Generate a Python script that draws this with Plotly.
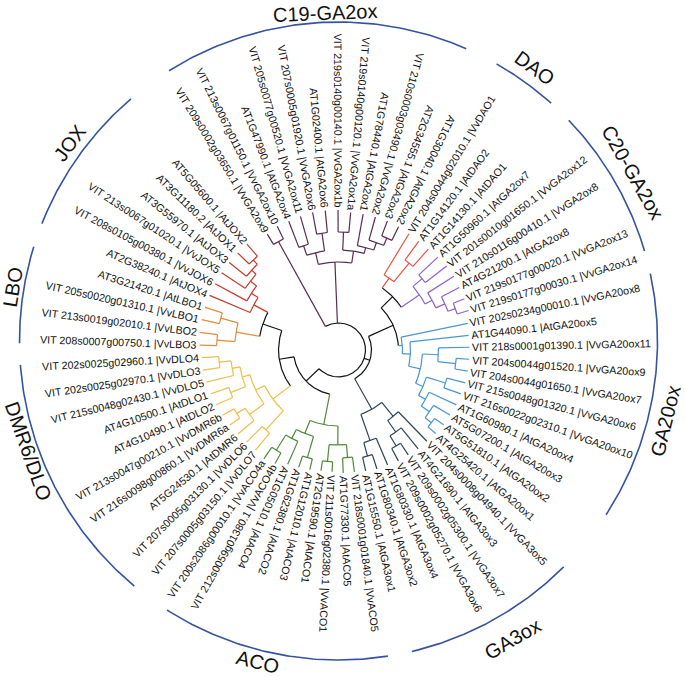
import math
import plotly.graph_objects as go

W, H = 685, 677

# ---------------- data ----------------
LEAF_LABELS = [
    "VIT 209s0002g03650.1 |VvGA2ox9", "VIT 213s0067g01150.1 |VvGA2ox10", "AT1G47990.1 |AtGA2ox4",
    "VIT 205s0077g00520.1 |VvGA2ox11", "VIT 207s0005g01920.1 |VvGA2ox6", "AT1G02400.1 |AtGA2ox6",
    "VIT 219s0140g00140.1 |VvGA2ox1b", "VIT 219s0140g00120.1 |VvGA2ox1a", "AT1G78440.1 |AtGA2ox1",
    "VIT 210s0003g03490.1 |VvGA2ox2", "AT2G34555.1 |AtGA2ox3", "AT1G30040.1 |AtGA2ox2",
    "VIT 204s0044g02010.1 |VvDAO1", "AT1G14120.1 |AtDAO2", "AT1G14130.1 |AtDAO1",
    "AT1G50960.1 |AtGA2ox7", "VIT 201s0010g01650.1 |VvGA2ox12", "VIT 210s0116g00410.1 |VvGA2ox8",
    "AT4G21200.1 |AtGA2ox8", "VIT 219s0177g00020.1 |VvGA2ox13", "VIT 219s0177g00030.1 |VvGA2ox14",
    "VIT 202s0234g00010.1 |VvGA20ox8", "AT1G44090.1 |AtGA20ox5", "VIT 218s0001g01390.1 |VvGA20ox11",
    "VIT 204s0044g01520.1 |VvGA20ox9", "VIT 204s0044g01650.1 |VvGA20ox7", "VIT 215s0048g01320.1 |VvGA20ox6",
    "VIT 216s0022g02310.1 |VvGA20ox10", "AT1G60980.1 |AtGA20ox4", "AT5G07200.1 |AtGA20ox3",
    "AT5G51810.1 |AtGA20ox2", "AT4G25420.1 |AtGA20ox1",
    "VIT 204s0008g04940.1 |VvGA3ox5", "AT4G21690.1 |AtGA3ox3", "VIT 209s0002g05300.1 |VvGA3ox7",
    "VIT 209s0002g05270.1 |VvGA3ox6", "AT1G80330.1 |AtGA3ox4", "AT1G80340.1 |AtGA3ox2", "AT1G15550.1 |AtGA3ox1",
    "VIT 218s0001g01840.1 |VvACO5", "AT1G77330.1 |AtACO5", "VIT 211s0016g02380.1 |VvACO1",
    "AT2G19590.1 |AtACO1", "AT1G12010.1 |AtACO3", "AT1G62380.1 |AtACO2", "AT1G05010.1 |AtACO4",
    "VIT 212s0059g01380.1 |VvACO4b", "VIT 200s2086g00010.1 |VvACO4a",
    "VIT 207s0005g03150.1 |VvDLO7", "VIT 207s0005g03130.1 |VvDLO6", "AT5G24530.1 |AtDMR6",
    "VIT 216s0098g00860.1 |VvDMR6a", "VIT 213s0047g00210.1 |VvDMR6b", "AT4G10490.1 |AtDLO2",
    "AT4G10500.1 |AtDLO1", "VIT 215s0048g02430.1 |VvDLO5", "VIT 202s0025g02970.1 |VvDLO3",
    "VIT 202s0025g02960.1 |VvDLO4",
    "VIT 208s0007g00750.1 |VvLBO3", "VIT 213s0019g02010.1 |VvLBO2", "VIT 205s0020g01310.1 |VvLBO1",
    "AT3G21420.1 |AtLBO1",
    "AT2G38240.1 |AtJOX4", "VIT 208s0105g00380.1 |VvJOX6", "VIT 213s0067g01020.1 |VvJOX5",
    "AT3G55970.1 |AtJOX3", "AT3G11180.2 |AtJOX1", "AT5G05600.1 |AtJOX2",
]

# distance of each leaf tip from the tree centre
LEAF_TIP_R = [
    136, 138, 138, 139, 140, 140, 140, 138, 138, 138, 138, 137,
    136, 135, 135,
    136, 137, 137, 136, 136, 136,
    132, 131, 131, 131, 131, 131, 130, 130, 129, 129, 128,
    127, 127, 126, 126, 125, 125, 124,
    123, 123, 122, 122, 123, 124, 125, 130, 132,
    130, 130, 131, 132, 133, 134, 135, 136, 137, 137,
    139, 140, 140, 140,
    140, 140, 140, 140, 140, 140,
]

# topology: leaves are leaf numbers, ")r" = radius of the internal node
TREE = ("((1,2)124,"
        "(((3,4)110,(5,6)118)100,((7,8)118,(9,(10,(11,12)122)114)106)100)88,"
        "((((13,(14,15)112)88,((16,17)110,(18,(19,(20,21)124)116)106)98)76,"
        "(22,(23,((24,(25,26)118)100,((27,28)112,(29,(30,(31,32)118)110)100)92)84)72)64)60,"
        "((33,(34,(35,36)112)100)86,(37,(38,39)110)96)68)33,"
        "((((40,41)108,(42,43)112)95,((44,45)112,(46,(47,48)118)100)90)76,"
        "(((49,50)108,((51,(52,53)120)110,((54,55)116,(56,(57,58)120)108)100)92)82,"
        "(((59,60)122,(61,62)122)104,(63,(64,(65,(66,(67,68)124)118)112)104)96)80)60)45)27")

GROUP_NAMES = ["C19-GA2ox", "DAO", "C20-GA2ox", "GA20ox", "GA3ox", "ACO", "DMR6/DLO", "LBO", "JOX"]
GROUP_FIRST = [1, 13, 16, 22, 33, 40, 49, 59, 63]
GROUP_LAST = [12, 15, 21, 32, 39, 48, 58, 62, 68]
GROUP_COLORS = ["#5a2b52", "#e8533f", "#8d62c9", "#4b95d1", "#2e4457",
                "#4f8a3b", "#eebf45", "#e38b3a", "#c8382c"]
GROUP_ARC_FROM = [122.1, 60.3, 43.8, 12.2, -45.1, -81.1, -129.8, 180.4, 130.6]
GROUP_ARC_TO = [66.4, 48.2, 16.4, -33.0, -76.7, -122.5, -175.7, 162.8, 158.4]
GROUP_LABEL_ANGLE = [92.3, 54.3, 29.7, -13.8, -59.7, -104.1, -160.5, 170.6, 143.6]
GROUP_LABEL_R = [328, 336, 339, 337, 345, 331, 329, 330, 334]

# ---------------- geometry settings ----------------
TREE_CX, TREE_CY = 338.5, 350.0      # pixel coords (y down)
ARC_CX, ARC_CY = 338.5, 341.0
ARC_R = 319.0
FIRST_ANGLE = 121.6
STEP = 5.235
LEAF_FONT = 10.7
GROUP_FONT = 20
FONT = "Liberation Sans, Arial, sans-serif"
FLIP_HI, FLIP_LO = 61.4, -116.6

CW = {' ': 278, '.': 278, '|': 260, '-': 333, '/': 278, 'A': 667, 'B': 667, 'C': 722, 'D': 722,
      'E': 667, 'G': 778, 'I': 278, 'J': 500, 'L': 556, 'M': 833, 'O': 778, 'R': 722, 'T': 611,
      'V': 667, 'X': 667, 'a': 556, 'b': 556, 'g': 556, 'o': 556, 's': 500, 't': 278, 'v': 500,
      'x': 500}


def text_w(s, size):
    return sum(CW.get(c, 556) for c in s) * size / 1000.0


def parse(s):
    pos = [0]

    def node():
        if s[pos[0]] == '(':
            pos[0] += 1
            kids = [node()]
            while s[pos[0]] == ',':
                pos[0] += 1
                kids.append(node())
            pos[0] += 1  # ')'
            j = pos[0]
            while pos[0] < len(s) and (s[pos[0]].isdigit() or s[pos[0]] == '.'):
                pos[0] += 1
            return {'r': float(s[j:pos[0]]), 'kids': kids}
        j = pos[0]
        while pos[0] < len(s) and s[pos[0]].isdigit():
            pos[0] += 1
        return {'leaf': int(s[j:pos[0]])}
    return node()


leaf_group = {}
for gi, (a, b) in enumerate(zip(GROUP_FIRST, GROUP_LAST)):
    for k in range(a, b + 1):
        leaf_group[k] = gi


def leaf_angle(k):
    return FIRST_ANGLE - (k - 1) * STEP


def prep(n):
    if 'leaf' in n:
        n['a'] = leaf_angle(n['leaf'])
        n['rr'] = LEAF_TIP_R[n['leaf'] - 1]
        n['g'] = {leaf_group[n['leaf']]}
        return
    for c in n['kids']:
        prep(c)
    n['a'] = (n['kids'][0]['a'] + n['kids'][-1]['a']) / 2
    n['rr'] = n['r']
    n['g'] = set().union(*[c['g'] for c in n['kids']])


def to_xy(cx, cy, r, a):
    t = math.radians(a)
    return cx + r * math.cos(t), H - (cy - r * math.sin(t))


segs = {}


def add(color, pts):
    xs, ys = segs.setdefault(color, ([], []))
    for x, y in pts:
        xs.append(x)
        ys.append(y)
    xs.append(None)
    ys.append(None)


def color_of(gset):
    return GROUP_COLORS[next(iter(gset))] if len(gset) == 1 else "#111111"


def draw(n):
    if 'leaf' in n:
        return
    r = n['r']
    angs = [c['a'] for c in n['kids']]
    a0, a1 = max(angs), min(angs)
    m = max(3, int(abs(a0 - a1) * r / 4))
    add(color_of(n['g']), [to_xy(TREE_CX, TREE_CY, r, a0 + (a1 - a0) * i / m) for i in range(m + 1)])
    for c in n['kids']:
        add(color_of(c['g']), [to_xy(TREE_CX, TREE_CY, r, c['a']),
                               to_xy(TREE_CX, TREE_CY, c['rr'], c['a'])])
        draw(c)


root = parse(TREE)
prep(root)
draw(root)

fig = go.Figure()
for col, (xs, ys) in segs.items():
    fig.add_trace(go.Scatter(x=xs, y=ys, mode="lines", line=dict(color=col, width=1.2),
                             hoverinfo="skip"))

# group arcs
for gi in range(len(GROUP_NAMES)):
    a0, a1 = GROUP_ARC_FROM[gi], GROUP_ARC_TO[gi]
    m = 80
    pts = [to_xy(ARC_CX, ARC_CY, ARC_R, a0 + (a1 - a0) * i / m) for i in range(m + 1)]
    fig.add_trace(go.Scatter(x=[p[0] for p in pts], y=[p[1] for p in pts], mode="lines",
                             line=dict(color="#3553a0", width=1.6), hoverinfo="skip"))

ann = []
for k, lab in enumerate(LEAF_LABELS, start=1):
    a = leaf_angle(k)
    an = (a + 180) % 360 - 180
    w = text_w(lab, LEAF_FONT)
    rc = LEAF_TIP_R[k - 1] + 2.5 + w / 2
    x, y = to_xy(TREE_CX, TREE_CY, rc, a)
    if FLIP_LO < an < FLIP_HI:
        ta = -an
    else:
        ta = -(an + 180)
    ta = (ta + 180) % 360 - 180
    ann.append(dict(x=x, y=y, text=lab, textangle=ta, showarrow=False, xanchor="center",
                    yanchor="middle", font=dict(family=FONT, size=LEAF_FONT, color="#111111")))

for gi, name in enumerate(GROUP_NAMES):
    a = GROUP_LABEL_ANGLE[gi]
    x, y = to_xy(ARC_CX, ARC_CY, GROUP_LABEL_R[gi], a)
    if 0 < a < 175:
        ta = 90 - a
    else:
        ta = -(a + 90)
    ta = (ta + 180) % 360 - 180
    ann.append(dict(x=x, y=y, text=name, textangle=ta, showarrow=False, xanchor="center",
                    yanchor="middle", borderpad=0,
                    font=dict(family=FONT, size=GROUP_FONT, color="#111111")))

fig.update_layout(
    width=W, height=H, margin=dict(l=0, r=0, t=0, b=0),
    paper_bgcolor="white", plot_bgcolor="white", showlegend=False,
    xaxis=dict(range=[0, W], visible=False, fixedrange=True),
    yaxis=dict(range=[0, H], visible=False, fixedrange=True),
    annotations=ann,
)
fig.write_html("out.html", config={"displayModeBar": False},
               post_script="document.body.style.margin='0px';")
